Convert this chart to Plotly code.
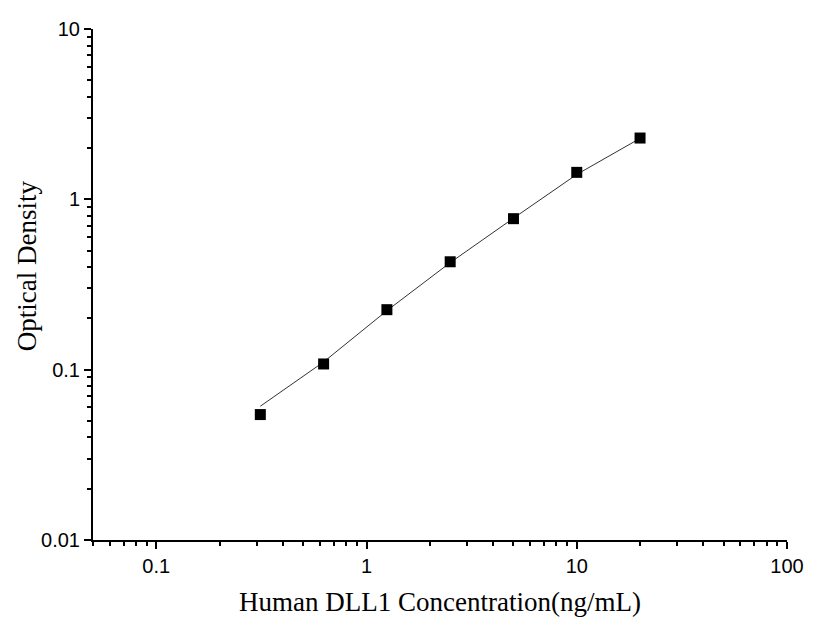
import plotly.graph_objects as go

# Standard curve data
conc = [0.3125, 0.625, 1.25, 2.5, 5, 10, 20]
od = [0.0545, 0.108, 0.225, 0.43, 0.77, 1.44, 2.29]
fit_od = [0.061, 0.111, 0.222, 0.425, 0.775, 1.40, 2.28]

x_ticks = [0.1, 1, 10, 100]
x_ticklabels = ["0.1", "1", "10", "100"]
y_ticks = [0.01, 0.1, 1, 10]
y_ticklabels = ["0.01", "0.1", "1", "10"]

x_minor = [m * 10 ** e for e in range(-2, 2) for m in range(2, 10)]
y_minor = [m * 10 ** e for e in range(-2, 1) for m in range(2, 10)]

title_font = dict(family="Liberation Serif, Times New Roman", size=27, color="black")

fig = go.Figure()

# fitted curve
fig.add_trace(go.Scatter(
    x=conc, y=fit_od, mode="lines",
    line=dict(color="#333333", width=1),
    hoverinfo="skip", showlegend=False,
))

# measured points
fig.add_trace(go.Scatter(
    x=conc, y=od, mode="markers",
    marker=dict(symbol="square", size=11, color="black"),
    showlegend=False,
))

axis_common = dict(
    type="log",
    automargin=False,
    showgrid=False,
    zeroline=False,
    showline=True,
    linecolor="black",
    linewidth=2,
    ticks="outside",
    ticklen=7,
    tickwidth=2,
    tickcolor="black",
    tickmode="array",
    tickfont=dict(family="Liberation Sans, Arial", size=20, color="black"),
)

fig.update_xaxes(
    **axis_common,
    range=[-1.301, 2],
    tickvals=x_ticks,
    ticktext=x_ticklabels,
    minor=dict(ticks="outside", ticklen=4, tickwidth=2, tickcolor="black",
               tickmode="array", tickvals=x_minor),
    title_text="Human DLL1 Concentration(ng/mL)",
    title_font=title_font,
    title_standoff=16,
)

fig.update_yaxes(
    **axis_common,
    range=[-2, 1],
    tickvals=y_ticks,
    ticktext=y_ticklabels,
    minor=dict(ticks="outside", ticklen=4, tickwidth=2, tickcolor="black",
               tickmode="array", tickvals=y_minor),
)

# y title sits a bit above the plot centre in the original
fig.add_annotation(
    text="Optical Density", textangle=-90,
    xref="paper", yref="paper", x=-0.095, y=0.536,
    xanchor="center", yanchor="middle",
    showarrow=False, font=title_font,
)

fig.update_layout(
    width=826,
    height=638,
    plot_bgcolor="white",
    paper_bgcolor="white",
    margin=dict(l=85, r=47, t=21, b=106),
)

fig.write_html("out.html")
